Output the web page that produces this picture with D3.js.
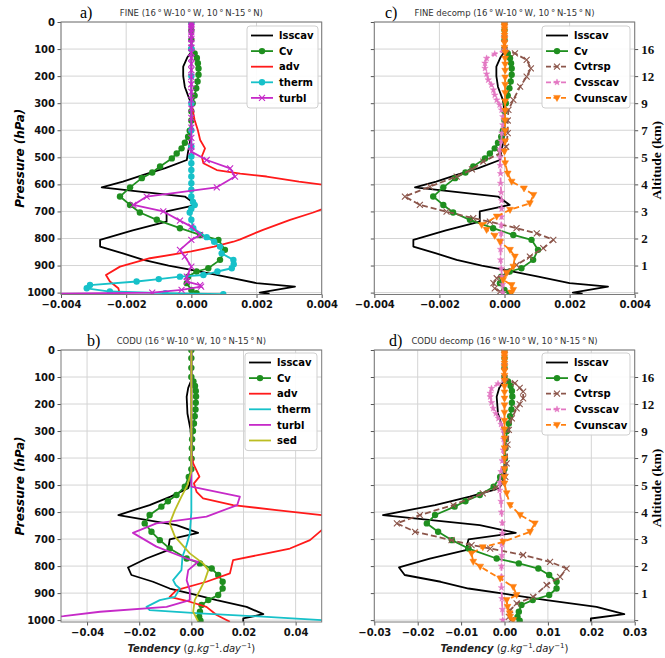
<!DOCTYPE html>
<html>
<head>
<meta charset="utf-8">
<script src="https://cdn.jsdelivr.net/npm/d3@7"></script>
<style>
  body { margin: 0; background: #fff; }
  svg { font-family: "DejaVu Sans", sans-serif; }
</style>
</head>
<body>
<div id="chart"></div>
<script>
// ---- data: [pressure (hPa), tendency] ----
const pressureTicks = [0, 100, 200, 300, 400, 500, 600, 700, 800, 900, 1000];
const altitudeTicks = [100, 200, 300, 400, 500, 600, 700, 800, 900, 1000];
const altitudeLabels = ["16", "12", "9", "7", "5", "4", "3", "2", "1", ""];

const fineXTicks = [-0.004, -0.002, 0, 0.002, 0.004];
const coduXTicks = [-0.04, -0.02, 0, 0.02, 0.04];
const coduDecompXTicks = [-0.03, -0.02, -0.01, 0, 0.01, 0.02, 0.03];

const fineLsscav = [[0,0],[100,0],[110,0],[130,-0.00012],[165,-0.00025],[200,-0.00025],[240,-0.0002],[288,-0.00005],[330,0],[400,0],[450,-0.00005],[479,-0.0001],[510,-0.00014],[540,-0.0008],[565,-0.00147],[590,-0.0021],[611,-0.00275],[645,-0.0002],[676,0.00016],[700,-0.00076],[738,-0.00076],[770,-0.0018],[805,-0.0028],[830,-0.0028],[855,-0.0021],[879,-0.00147],[900,-0.0007],[916,0],[940,0.001],[965,0.002],[978,0.00318],[1000,0.0021],[1004,0.0024]];
const fineCv = [[0,0],[30,0],[66,0],[100,0],[116,0.0001],[133,0.00017],[152,0.0002],[172,0.00022],[195,0.00022],[220,0.00019],[245,0.00015],[272,0.0001],[300,0.00004],[330,0],[364,0],[402,-0.00005],[424,-0.0001],[446,-0.0002],[467,-0.0003],[486,-0.00045],[504,-0.0006],[534,-0.00096],[556,-0.0012],[577,-0.00152],[611,-0.00188],[645,-0.00219],[676,-0.00188],[704,-0.00158],[731,-0.00106],[762,-0.00035],[787,0.00027],[805,0.00083],[842,0.00103],[879,0.00088],[910,0.00052],[922,0.00016],[941,-0.0001],[965,-0.00014],[990,0],[1002,0.00016]];
const fineAdv = [[0,0],[300,0],[362,0.0001],[400,0.0002],[436,0.00027],[467,0.00042],[497,0.00032],[522,0.00037],[547,0.00078],[560,0.0015],[571,0.00231],[590,0.0033],[602,0.0041],[620,0.0049],[650,0.0052],[675,0.0046],[688,0.0041],[704,0.00374],[731,0.00303],[768,0.0022],[803,0.0015],[812,0.00129],[830,0.0007],[848,0],[873,-0.00127],[904,-0.00219],[935,-0.00262],[959,-0.0025],[984,-0.00224],[1003,-0.0022]];
const fineTherm = [[0,0],[100,0],[200,0],[300,0],[400,0],[460,0],[497,0],[522,0],[547,0],[571,0],[596,0],[620,0],[645,0],[665,0.00005],[676,0.0001],[690,0],[704,-0.00005],[731,0],[762,0.00006],[795,0.00047],[812,0.0007],[830,0.00088],[855,0.00093],[879,0.00129],[895,0.0013],[910,0.00124],[922,0.0008],[935,0.00037],[941,-0.00035],[950,-0.001],[959,-0.00168],[972,-0.00311],[984,-0.00321],[996,-0.0025],[1002,-0.0008],[1006,0.00098]];
const fineTurbl = [[0,0],[5,0],[10,0],[18,0],[27,0],[38,0],[50,0],[63,0],[78,0],[95,0],[113,0],[133,0],[155,0],[178,0],[203,0],[230,0],[258,0],[288,0],[320,0],[354,0],[390,0],[428,0],[460,0],[479,0],[510,0.00047],[541,0.00119],[571,0.00134],[611,0.00078],[645,-0.00137],[676,-0.00178],[700,-0.00086],[734,-0.00035],[756,0],[787,0.00027],[805,0],[842,-0.00035],[867,-0.0002],[904,0],[941,-0.00014],[959,-0.00014],[972,0.00027],[978,0.0003],[990,-0.0003],[1000,-0.0012],[1005,-0.0045]];
const fineCvtrsp = [[0,0],[60,0],[103,0],[116,0.00032],[140,0.00068],[171,0.00081],[202,0.00068],[239,0.00048],[288,0.00027],[325,0.00012],[364,0.0001],[411,0.0001],[461,0.00005],[485,-0.00014],[516,-0.00065],[545,-0.001],[571,-0.00147],[608,-0.00229],[645,-0.00306],[676,-0.0026],[701,-0.00178],[725,-0.00096],[738,-0.00045],[762,0.00037],[781,0.00099],[805,0.0015],[836,0.00119],[867,0.00078],[898,0.00037],[922,0.00007],[947,-0.00024],[965,-0.00034],[984,-0.0003],[996,-0.00014]];
const fineCvsscav = [[0,0],[60,0],[103,0],[118,-0.0003],[134,-0.00055],[152,-0.0006],[171,-0.0006],[192,-0.00055],[214,-0.0005],[232,-0.0004],[251,-0.00034],[270,-0.0003],[288,-0.00024],[306,-0.00015],[325,-0.00009],[350,-0.00005],[380,-0.00005],[410,-0.00008],[440,-0.0001],[470,-0.00014],[500,-0.00014],[530,-0.00013],[560,-0.00012],[596,-0.00012],[630,-0.0001],[660,-0.00009],[690,-0.00009],[720,-0.00009],[750,-0.0001],[781,-0.0001],[810,-0.00011],[840,-0.00012],[879,-0.00012],[910,-0.0001],[940,-0.00008],[970,-0.00006],[1000,-0.00005]];
const fineCvunscav = [[0,0],[5,0],[10,0],[18,0],[27,0],[38,0],[50,0],[63,0],[78,0],[95,0],[113,0.00002],[135,0.00002],[157,0.00002],[180,0.00002],[205,0.00002],[232,0.00002],[262,0.00002],[294,0.00002],[328,0.00002],[364,0.00002],[402,0.00002],[441,0.00002],[479,0],[522,0.00002],[560,0.0001],[590,0.00022],[615,0.0006],[639,0.00089],[670,0.00078],[694,0.00017],[719,-0.00024],[750,-0.0007],[768,-0.00055],[790,-0.0003],[812,-0.00014],[842,0.00017],[867,0.00032],[904,0.00027],[928,0.00007],[953,-0.00004],[972,0.00022],[990,0.00027],[1000,0.0002]];

const coduLsscav = [[0,0],[100,0],[111,0],[140,-0.0012],[173,-0.0018],[235,-0.0015],[296,-0.0003],[350,0],[450,0],[490,-0.0005],[512,-0.0012],[543,-0.008],[574,-0.016],[611,-0.028],[648,-0.0057],[677,0.0026],[701,-0.0083],[741,-0.0089],[772,-0.0172],[805,-0.0243],[833,-0.023],[858,-0.0147],[883,-0.0083],[901,-0.0006],[926,0.0097],[951,0.0212],[978,0.0276],[994,0.0199],[1006,0.0199]];
const coduCv = [[0,0],[30,0],[66,0],[100,0],[116,0.0008],[133,0.0014],[152,0.0017],[172,0.0018],[195,0.0017],[220,0.0016],[245,0.0013],[272,0.001],[300,0.0006],[330,0.0003],[364,0.0002],[402,0.0001],[441,0],[470,-0.001],[506,-0.0025],[537,-0.0057],[560,-0.009],[580,-0.0115],[611,-0.016],[642,-0.0179],[673,-0.0153],[704,-0.0121],[735,-0.0083],[772,-0.0018],[790,0.0033],[809,0.0078],[833,0.0103],[858,0.012],[883,0.012],[907,0.0103],[926,0.0065],[944,0.0039],[969,0.0033],[988,0.003],[1002,0.0035]];
const coduAdv = [[0,0],[380,0],[420,0.0007],[469,0.0031],[494,0.001],[525,0.002],[549,0.0045],[574,0.016],[593,0.0327],[611,0.05],[630,0.058],[650,0.056],[667,0.05],[704,0.0455],[735,0.0378],[753,0.0289],[778,0.016],[827,0.0148],[858,0.0058],[889,-0.0057],[914,-0.0083],[932,-0.0006],[951,0.0058],[981,0.0097],[1006,0.0148]];
const coduTherm = [[0,0],[600,0],[640,-0.0003],[679,-0.0006],[722,-0.0018],[765,-0.0034],[815,-0.0038],[852,-0.007],[870,-0.006],[883,-0.0044],[914,-0.0063],[926,-0.0121],[951,-0.0172],[963,-0.016],[975,0.0033],[988,0.029],[1000,0.05],[1006,0.062]];
const coduTurbl = [[0,0],[460,0],[506,0],[543,0.0186],[574,0.0176],[617,0.0058],[642,-0.0134],[677,-0.0224],[728,-0.0134],[772,-0.0018],[784,0.0026],[815,-0.0012],[852,-0.0018],[889,-0.0006],[926,-0.0006],[951,-0.0095],[969,-0.035],[985,-0.049],[995,-0.06]];
const coduSed = [[0,0],[450,0],[500,-0.0015],[543,-0.0038],[593,-0.0063],[642,-0.0083],[691,-0.0063],[753,-0.0006],[790,0.0045],[815,0.0065],[852,0.0052],[889,0.0033],[926,0.0013],[969,0.0007],[1005,0.0026]];
const coduCvtrsp = [[0,0],[60,0],[105,0],[123,0.0024],[140,0.0035],[154,0.0043],[179,0.0043],[200,0.0035],[216,0.0028],[253,0.0017],[296,0.001],[350,0.0007],[420,0.0005],[470,0.0002],[494,-0.0005],[510,-0.002],[531,-0.005],[574,-0.0118],[611,-0.0195],[642,-0.0248],[673,-0.0206],[704,-0.0122],[722,-0.0076],[735,-0.0033],[759,0.0043],[784,0.0105],[809,0.0143],[840,0.0128],[870,0.0097],[914,0.0066],[938,0.0028],[963,0.0013],[988,0.001],[1000,0.0015]];
const coduCvsscav = [[0,0],[60,0],[111,0],[125,-0.0015],[142,-0.003],[160,-0.0033],[173,-0.0033],[195,-0.003],[216,-0.0026],[235,-0.002],[253,-0.0014],[275,-0.0008],[296,-0.0003],[330,-0.0002],[370,-0.0003],[410,-0.0005],[450,-0.0008],[490,-0.0011],[519,-0.0011],[560,-0.0008],[600,-0.0007],[640,-0.0005],[680,-0.0005],[720,-0.0006],[760,-0.0006],[800,-0.0007],[840,-0.0007],[880,-0.0007],[920,-0.0006],[960,-0.0005],[1000,-0.0004]];
const coduCvunscav = [[0,0],[5,0],[10,0],[18,0],[27,0],[38,0],[50,0],[63,0],[78,0],[95,0],[113,0],[135,0],[157,0],[180,0],[205,0],[232,0],[262,0],[294,0],[328,0],[364,0],[402,0],[441,0],[470,0],[494,0],[530,0.0005],[574,0.0013],[611,0.0036],[642,0.007],[673,0.0059],[710,-0.0003],[730,-0.005],[753,-0.0076],[784,-0.0072],[802,-0.0056],[846,-0.001],[877,0.002],[907,0.0028],[926,0.0005],[951,0.0007],[975,0.0012],[988,0.0013],[1000,0.002]];

// ---- styles ----
const S = {
  lsscav:   { label: "lsscav",   color: "#000000" },
  Cv:       { label: "Cv",       color: "#1f8f1f", marker: "circle" },
  adv:      { label: "adv",      color: "#ff1a1a" },
  therm:    { label: "therm",    color: "#17c1c9" },
  turbl:    { label: "turbl",    color: "#c62ac8" },
  sed:      { label: "sed",      color: "#bcbd22" },
  Cvtrsp:   { label: "Cvtrsp",   color: "#8c564b", marker: "x", dash: "6,3" },
  Cvsscav:  { label: "Cvsscav",  color: "#e377c2", marker: "star", dash: "6,3" },
  Cvunscav: { label: "Cvunscav", color: "#ff7f0e", marker: "tri", dash: "6,3" }
};

const pMax = 1007;
const width = 665, height = 658;

const svg = d3.select("#chart").append("svg")
  .attr("width", width).attr("height", height);

function markerPath(type) {
  if (type === "x") return "M-3,-3L3,3M-3,3L3,-3";
  if (type === "tri") return "M-3.4,-2.5L3.4,-2.5L0,3.6Z";
  if (type === "star") return d3.symbol().type(d3.symbolStar).size(13)();
  return null;
}

function drawMarkers(g, pts, type, color) {
  if (type === "circle") {
    g.selectAll(null).data(pts).join("circle")
      .attr("cx", d => d[0]).attr("cy", d => d[1]).attr("r", 3.2)
      .attr("fill", color);
  } else {
    g.selectAll(null).data(pts).join("path")
      .attr("transform", d => `translate(${d[0]},${d[1]})`)
      .attr("d", markerPath(type))
      .attr("fill", type === "x" ? "none" : color)
      .attr("stroke", color)
      .attr("stroke-width", type === "x" ? 1.1 : 0.5);
  }
}

function drawPanel(cfg) {
  const { x0, x1, y0, y1 } = cfg.box;
  const x = d3.scaleLinear().domain(cfg.xDomain).range([x0, x1]);
  const y = d3.scaleLinear().domain([0, pMax]).range([y0, y1]);
  const g = svg.append("g");

  svg.append("clipPath").attr("id", "clip-" + cfg.id)
    .append("rect").attr("x", x0).attr("y", y0)
    .attr("width", x1 - x0).attr("height", y1 - y0);

  // grid
  g.append("g").selectAll("line").data(cfg.xTicks).join("line")
    .attr("x1", d => x(d)).attr("x2", d => x(d))
    .attr("y1", y0).attr("y2", y1)
    .attr("stroke", "#d4d4d4").attr("stroke-width", 1);
  g.append("g").selectAll("line").data(pressureTicks).join("line")
    .attr("x1", x0).attr("x2", x1)
    .attr("y1", d => y(d)).attr("y2", d => y(d))
    .attr("stroke", "#d4d4d4").attr("stroke-width", 1);

  // axes
  const xAxis = d3.axisBottom(x).tickValues(cfg.xTicks)
    .tickFormat(d3.format(cfg.fmt)).tickSize(3.5).tickPadding(3);
  const gx = g.append("g").attr("transform", `translate(0,${y1})`).call(xAxis);
  gx.select(".domain").remove();
  gx.selectAll("text").attr("font-size", 10).attr("font-weight", "bold")
    .attr("font-family", "DejaVu Sans").attr("fill", "#111");
  gx.selectAll("line").attr("stroke", "#555");

  const yAxis = d3.axisLeft(y).tickValues(pressureTicks)
    .tickSize(3.5).tickPadding(2.5)
    .tickFormat(cfg.right ? () => "" : d3.format("d"));
  const gy = g.append("g").attr("transform", `translate(${x0},0)`).call(yAxis);
  gy.select(".domain").remove();
  gy.selectAll("text").attr("font-size", 10).attr("font-weight", "bold")
    .attr("font-family", "DejaVu Sans").attr("fill", "#111");
  gy.selectAll("line").attr("stroke", "#555");

  if (cfg.right) {
    const rAxis = d3.axisRight(y).tickValues(altitudeTicks)
      .tickSize(3.5).tickPadding(3)
      .tickFormat((d, i) => altitudeLabels[i]);
    const gr = g.append("g").attr("transform", `translate(${x1},0)`).call(rAxis);
    gr.select(".domain").remove();
    gr.selectAll("text").attr("font-size", 13).attr("font-weight", "bold")
      .attr("font-family", "Liberation Serif, serif").attr("fill", "#111");
    gr.selectAll("line").attr("stroke", "#555");

    svg.append("text")
      .attr("transform", `translate(661,${(y0 + y1) / 2 + 2}) rotate(-90)`)
      .attr("text-anchor", "middle")
      .attr("font-family", "Liberation Serif, serif")
      .attr("font-weight", "bold").attr("font-size", 13.5)
      .text("Altitude (km)");
  } else {
    svg.append("text")
      .attr("transform", `translate(24,${(y0 + y1) / 2}) rotate(-90)`)
      .attr("text-anchor", "middle")
      .attr("font-weight", "bold").attr("font-style", "italic")
      .attr("font-size", 12)
      .text("Pressure (hPa)");
  }

  // series
  const line = d3.line().x(d => x(d[1])).y(d => y(d[0]));
  const plot = g.append("g").attr("clip-path", `url(#clip-${cfg.id})`);
  cfg.series.forEach(s => {
    const st = Object.assign({}, S[s.key], s.style || {});
    plot.append("path")
      .attr("d", line(s.data))
      .attr("fill", "none")
      .attr("stroke", st.color)
      .attr("stroke-width", 1.8)
      .attr("stroke-dasharray", st.dash || null)
      .attr("stroke-linejoin", "round");
    if (st.marker) {
      const pts = s.data.map(d => [x(d[1]), y(d[0])]);
      drawMarkers(plot.append("g"), pts, st.marker, st.color);
    }
  });

  // frame
  g.append("rect").attr("x", x0).attr("y", y0)
    .attr("width", x1 - x0).attr("height", y1 - y0)
    .attr("fill", "none").attr("stroke", "#7a7a7a").attr("stroke-width", 1);

  // title and letter
  svg.append("text").attr("x", (x0 + x1) / 2).attr("y", y0 - 6)
    .attr("text-anchor", "middle").attr("font-size", 8.5).attr("fill", "#333")
    .text(cfg.title);
  svg.append("text").attr("x", cfg.letterX).attr("y", y0 - 4)
    .attr("font-family", "Liberation Serif, serif").attr("font-size", 16)
    .text(cfg.letter);

  // legend
  const L = cfg.legend;
  const lg = svg.append("g");
  lg.append("rect").attr("x", L.x).attr("y", L.y)
    .attr("width", L.w).attr("height", cfg.series.length * 15.6 + 4)
    .attr("rx", 3).attr("fill", "#fff").attr("fill-opacity", 0.9)
    .attr("stroke", "#cfcfcf");
  cfg.series.forEach((s, i) => {
    const st = Object.assign({}, S[s.key], s.style || {});
    const ry = L.y + 9.5 + i * 15.6;
    lg.append("line").attr("x1", L.x + 4).attr("x2", L.x + 26)
      .attr("y1", ry).attr("y2", ry)
      .attr("stroke", st.color).attr("stroke-width", 1.8)
      .attr("stroke-dasharray", st.dash ? "5,2.5" : null);
    if (st.marker) drawMarkers(lg.append("g"), [[L.x + 15, ry]], st.marker, st.color);
    lg.append("text").attr("x", L.x + 32).attr("y", ry + 3.6)
      .attr("font-size", 10).attr("font-weight", "bold")
      .text(st.label);
  });

  // x label
  if (cfg.xlabel) {
    const t = svg.append("text").attr("x", (x0 + x1) / 2).attr("y", 652)
      .attr("text-anchor", "middle").attr("font-size", 10).attr("fill", "#222");
    t.append("tspan").attr("font-weight", "bold").attr("font-style", "italic").text("Tendency");
    t.append("tspan").text(" (");
    t.append("tspan").attr("font-style", "italic").text("g.kg");
    t.append("tspan").attr("font-size", 7).attr("dy", -4).text("\u22121");
    t.append("tspan").attr("font-style", "italic").attr("dy", 4).text(".day");
    t.append("tspan").attr("font-size", 7).attr("dy", -4).text("\u22121");
    t.append("tspan").attr("dy", 4).text(")");
  }
}

const region = "(16\u2009\u00b0\u2009W-10\u2009\u00b0\u2009W, 10\u2009\u00b0\u2009N-15\u2009\u00b0\u2009N)";

drawPanel({
  id: "a", box: { x0: 61, x1: 321.7, y0: 22, y1: 294.5 },
  xDomain: [-0.004, 0.004], xTicks: fineXTicks, fmt: ".3f",
  title: "FINE " + region, letter: "a)", letterX: 80,
  legend: { x: 247, y: 26, w: 71 },
  series: [
    { key: "lsscav", data: fineLsscav },
    { key: "Cv", data: fineCv },
    { key: "adv", data: fineAdv },
    { key: "therm", data: fineTherm, style: { marker: "circle" } },
    { key: "turbl", data: fineTurbl, style: { marker: "x" } }
  ]
});

drawPanel({
  id: "b", box: { x0: 61, x1: 321.7, y0: 350, y1: 622 },
  xDomain: [-0.05, 0.05], xTicks: coduXTicks, fmt: ".2f",
  title: "CODU " + region, letter: "b)", letterX: 87,
  legend: { x: 245, y: 353, w: 72 }, xlabel: true,
  series: [
    { key: "lsscav", data: coduLsscav },
    { key: "Cv", data: coduCv },
    { key: "adv", data: coduAdv },
    { key: "therm", data: coduTherm },
    { key: "turbl", data: coduTurbl },
    { key: "sed", data: coduSed }
  ]
});

drawPanel({
  id: "c", box: { x0: 374.3, x1: 634.7, y0: 22, y1: 294.5 }, right: true,
  xDomain: [-0.004, 0.004], xTicks: fineXTicks, fmt: ".3f",
  title: "FINE decomp " + region, letter: "c)", letterX: 385,
  legend: { x: 542, y: 26, w: 88 },
  series: [
    { key: "lsscav", data: fineLsscav },
    { key: "Cv", data: fineCv },
    { key: "Cvtrsp", data: fineCvtrsp },
    { key: "Cvsscav", data: fineCvsscav },
    { key: "Cvunscav", data: fineCvunscav }
  ]
});

drawPanel({
  id: "d", box: { x0: 374.3, x1: 634.7, y0: 350, y1: 622 }, right: true,
  xDomain: [-0.03, 0.03], xTicks: coduDecompXTicks, fmt: ".2f",
  title: "CODU decomp " + region, letter: "d)", letterX: 389,
  legend: { x: 542, y: 353, w: 88 }, xlabel: true,
  series: [
    { key: "lsscav", data: coduLsscav },
    { key: "Cv", data: coduCv },
    { key: "Cvtrsp", data: coduCvtrsp },
    { key: "Cvsscav", data: coduCvsscav },
    { key: "Cvunscav", data: coduCvunscav }
  ]
});
</script>
</body>
</html>
